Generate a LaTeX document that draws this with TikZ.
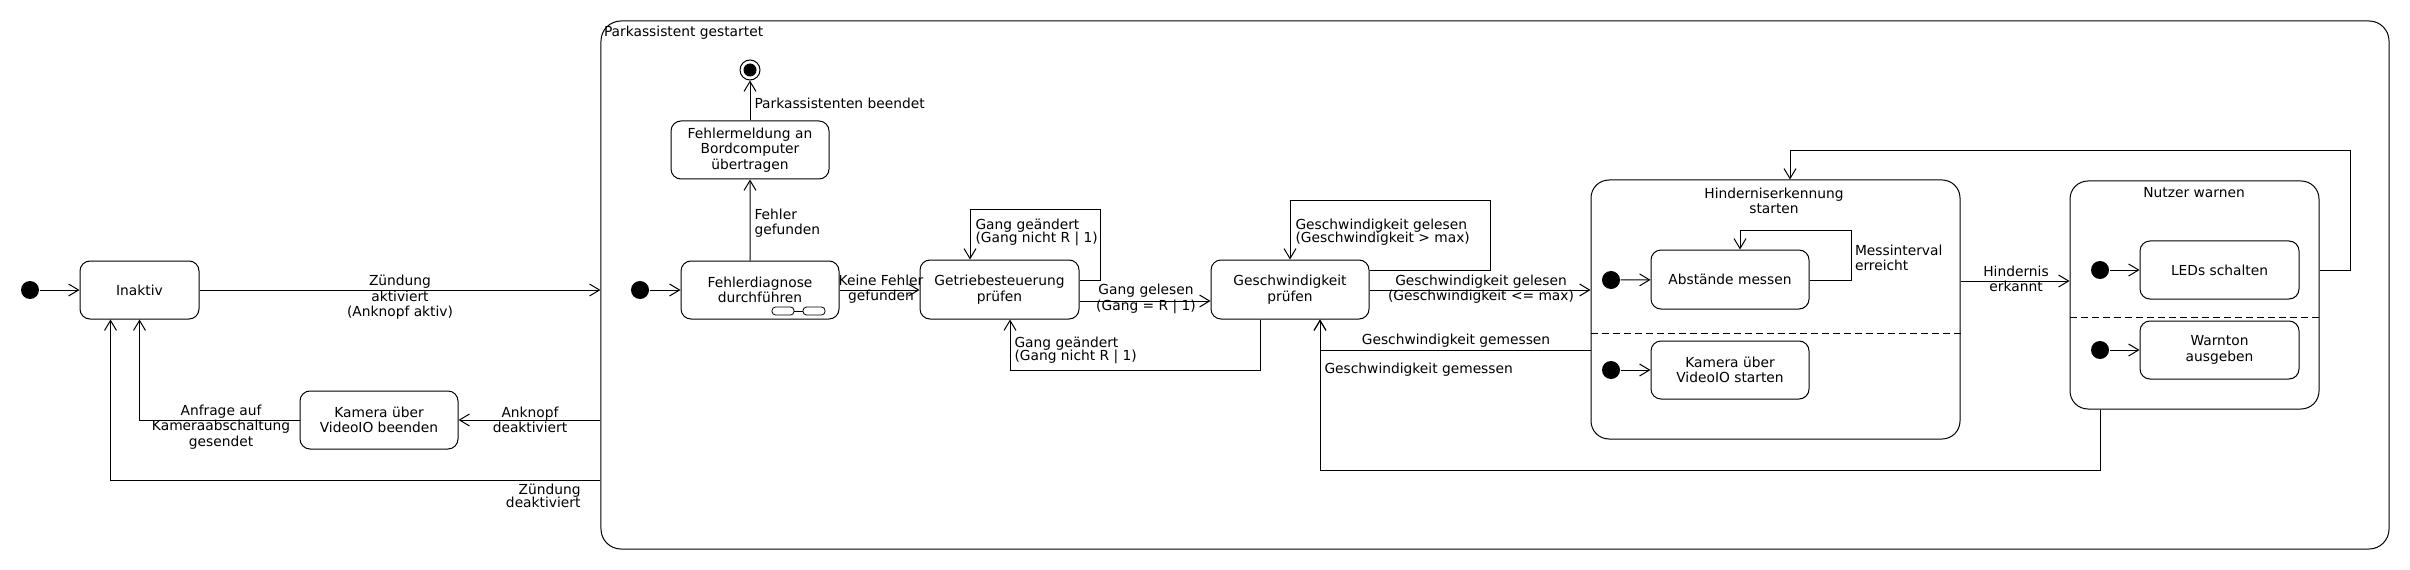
\documentclass[tikz,border=0pt]{standalone}
\usepackage{fontspec}
\setmainfont{DejaVu Sans}
\usetikzlibrary{arrows.meta}
\tikzset{
  zst/.style={draw, rounded corners=10bp, minimum width=158bp, minimum height=58bp, align=center, inner sep=0pt},
  verbund/.style={draw, rounded corners=18bp, inner sep=0pt},
  anfang/.style={circle, fill, minimum size=18bp, inner sep=0pt},
  ende/.style={circle, draw, minimum size=20bp, inner sep=0pt,
    path picture={\fill (path picture bounding box.center) circle (6.5bp);}},
  pfeil/.style={-{Straight Barb[length=10bp,width=12bp]}},
  txt/.style={inner sep=0pt, align=center},
}

\begin{document}
\begin{tikzpicture}[x=1bp, y=-1bp, line width=1bp,
    every node/.style={font=\fontsize{13.85}{15.6}\selectfont}]
      \useasboundingbox (0,0) rectangle (2410,570);
      % aussen
      \node[anfang] (i0) at (30,290) {};
      \node[zst, minimum width=119bp] (inaktiv) at (139.5,290) {Inaktiv};
      \node[zst] (kamB) at (379,420) {Kamera über\\VideoIO beenden};
      \node[verbund, rounded corners=20bp, minimum width=1788bp, minimum height=528bp] (pa) at (1495,285) {};
      \node[txt, anchor=west] (pat) at (603.5,33) {Parkassistent gestartet};
      \draw[pfeil] (i0) -- (inaktiv);
      \draw[pfeil] (inaktiv) -- (inaktiv -| pa.west);
      \node[txt] (l1) at (400,297.5) {Zündung\\aktiviert\\(Anknopf aktiv)};
      \draw[pfeil] (pa.west |- kamB) -- (kamB);
      \node[txt] (l2) at (530,420) {Anknopf\\deaktiviert};
      \draw[pfeil] (kamB) -| (inaktiv);
      \node[txt] (l3) at (221,427) {Anfrage auf\\Kameraabschaltung\\gesendet};
      \draw[pfeil] (pa.west |- 0,480) -| ([xshift=-29bp]inaktiv.south);
      \node[txt, anchor=east, align=right] (l4) at (581,495.5) {Zündung\\[-2.5bp]deaktiviert};
      % Parkassistent
      \node[anfang] (i1) at (640,290) {};
      \node[zst] (diag) at (760,290) {Fehlerdiagnose\\durchführen};
      \draw[line width=0.8bp, rounded corners=3.5bp] (772,307) rectangle (794,315);
      \draw[line width=0.8bp, rounded corners=3.5bp] (803,307) rectangle (825,315);
      \draw[line width=0.8bp] (794,311) -- (803,311);
      \node[zst] (meld) at (750,150) {Fehlermeldung an\\Bordcomputer\\übertragen};
      \node[ende] (fin) at (750,70) {};
      \node[zst, minimum width=159bp, minimum height=59bp] (getr) at (999.5,289.5) {Getriebesteuerung\\prüfen};
      \node[zst, minimum height=59bp] (geschw) at (1290,289.5) {Geschwindigkeit\\prüfen};
      \draw[pfeil] (i1) -- (diag);
      \draw[pfeil] ([xshift=-10bp]diag.north) -- (meld);
      \node[txt, anchor=west, align=left] (l5) at (754,223) {Fehler\\gefunden};
      \draw[pfeil] (meld) -- (fin);
      \node[txt, anchor=west] (l6) at (754,103) {Parkassistenten beendet};
      \draw[pfeil] (diag) -- (diag -| getr.west);
      \node[txt] (l7) at (881,289) {Keine Fehler\\gefunden};
      \draw[pfeil] (getr.east |- 0,280) -- (1100,280) |- (970,210) -- (getr.north -| 970,0);
      \node[txt, anchor=west, align=left] (l8) at (975,232.5) {Gang geändert\\[-2.5bp](Gang nicht R | 1)};
      \draw[pfeil] (getr.east |- 0,301) -- (geschw.west |- 0,301);
      \node[txt] (l9) at (1146,299) {Gang gelesen\\(Gang = R | 1)};
      \draw[pfeil] (geschw.south -| 1260,0) |- (1010,370) -- (getr.south -| 1010,0);
      \node[txt, anchor=west, align=left] (l10) at (1014,350.5) {Gang geändert\\[-2.5bp](Gang nicht R | 1)};
      \draw[pfeil] (geschw.east |- 0,270) -- (1490,270) |- (1290,201) -- (geschw.north -| 1290,0);
      \node[txt, anchor=west, align=left] (l11) at (1295,232.5) {Geschwindigkeit gelesen\\[-2.5bp](Geschwindigkeit > max)};
      % Hinderniserkennung
      \node[verbund, minimum width=369bp, minimum height=259bp] (hind) at (1775.5,309.5) {};
      \node[txt] (ht) at (1774,201) {Hinderniserkennung\\starten};
      \node[anfang] (i2) at (1611,280) {};
      \node[zst, minimum height=59bp] (abst) at (1730,279.5) {Abstände messen};
      \node[anfang] (i3) at (1611,370) {};
      \node[zst] (kamS) at (1730,370) {Kamera über\\VideoIO starten};
      \draw[dash pattern=on 7bp off 4bp] (hind.west |- 0,333) -- (hind.east |- 0,333);
      \draw[pfeil] (i2) -- (abst);
      \draw[pfeil] (i3) -- (kamS);
      \draw[pfeil] (abst.east |- 0,280) -- (1851,280) |- (1740,230) -- (abst.north -| 1740,0);
      \node[txt, anchor=west, align=left] (l15) at (1854.5,258) {Messinterval\\erreicht};
      \draw[pfeil] (geschw.east |- 0,290) -- (hind.west |- 0,290);
      \node[txt] (l12) at (1481,289) {Geschwindigkeit gelesen\\(Geschwindigkeit <= max)};
      \draw[pfeil] (hind.west |- 0,350) -| (geschw.south -| 1320,0);
      \node[txt] (l13) at (1456,341) {Geschwindigkeit gemessen};
      % Nutzer warnen
      \node[verbund, minimum width=249bp, minimum height=228bp] (nutzer) at (2194.5,295) {};
      \node[txt] (nt) at (2194,193) {Nutzer warnen};
      \node[anfang] (i4) at (2100,270) {};
      \node[zst, minimum width=159bp] (led) at (2219.5,270) {LEDs schalten};
      \node[anfang] (i5) at (2100,350) {};
      \node[zst, minimum width=159bp] (warn) at (2219.5,350) {Warnton\\ausgeben};
      \draw[dash pattern=on 7bp off 4bp] (nutzer.west |- 0,317) -- (nutzer.east |- 0,317);
      \draw[pfeil] (i4) -- (led);
      \draw[pfeil] (i5) -- (warn);
      \draw[pfeil] (hind.east |- 0,281) -- (nutzer.west |- 0,281);
      \node[txt] (l16) at (2016,279) {Hindernis\\erkannt};
      \draw[pfeil] (nutzer.east |- 0,270) -- (2350,270) |- (1790,151) -- (hind.north -| 1790,0);
      \draw[pfeil] (nutzer.south -| 2100,0) |- (1320,470) -- (geschw.south -| 1320,0);
      \node[txt, anchor=west] (l14) at (1324,370) {Geschwindigkeit gemessen};
\end{tikzpicture}
\end{document}
